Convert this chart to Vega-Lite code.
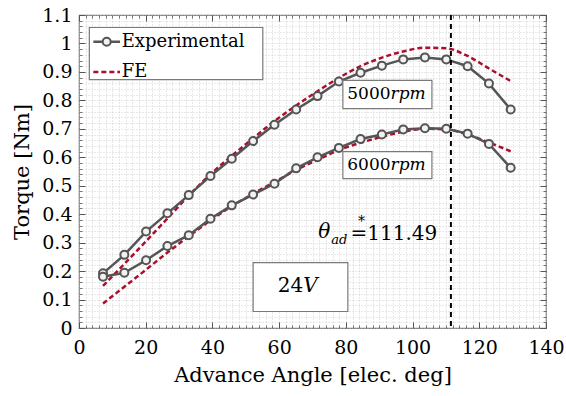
{
  "$schema": "https://vega.github.io/schema/vega-lite/v6.json",
  "width": 467,
  "height": 313,
  "autosize": {"type": "none"},
  "padding": {"left": 79, "top": 15, "right": 20, "bottom": 68},
  "background": "white",
  "config": {
    "view": {"stroke": "#7a7a7a", "strokeWidth": 1.2},
    "font": "DejaVu Serif",
    "axis": {
      "labelFont": "DejaVu Serif",
      "labelFontSize": 19,
      "labelColor": "black",
      "labelFlush": false,
      "labelOverlap": false,
      "titleFont": "DejaVu Serif",
      "titleFontSize": 21,
      "titleFontWeight": "normal",
      "titleColor": "black",
      "domain": false,
      "tickColor": "#555555",
      "grid": false
    }
  },
  "resolve": {"axis": {"x": "independent", "y": "independent"}},
  "datasets": {
    "curves": [
      {"angle": 7.2, "torque": 0.148, "speed": "5000", "source": "FE"},
      {"angle": 13.6, "torque": 0.225, "speed": "5000", "source": "FE"},
      {"angle": 20.1, "torque": 0.305, "speed": "5000", "source": "FE"},
      {"angle": 26.5, "torque": 0.385, "speed": "5000", "source": "FE"},
      {"angle": 32.9, "torque": 0.465, "speed": "5000", "source": "FE"},
      {"angle": 39.4, "torque": 0.54, "speed": "5000", "source": "FE"},
      {"angle": 45.8, "torque": 0.605, "speed": "5000", "source": "FE"},
      {"angle": 52.2, "torque": 0.667, "speed": "5000", "source": "FE"},
      {"angle": 58.6, "torque": 0.727, "speed": "5000", "source": "FE"},
      {"angle": 65.1, "torque": 0.782, "speed": "5000", "source": "FE"},
      {"angle": 71.5, "torque": 0.832, "speed": "5000", "source": "FE"},
      {"angle": 77.9, "torque": 0.879, "speed": "5000", "source": "FE"},
      {"angle": 84.4, "torque": 0.92, "speed": "5000", "source": "FE"},
      {"angle": 90.8, "torque": 0.95, "speed": "5000", "source": "FE"},
      {"angle": 97.2, "torque": 0.972, "speed": "5000", "source": "FE"},
      {"angle": 103.7, "torque": 0.985, "speed": "5000", "source": "FE"},
      {"angle": 110.1, "torque": 0.983, "speed": "5000", "source": "FE"},
      {"angle": 116.5, "torque": 0.956, "speed": "5000", "source": "FE"},
      {"angle": 122.9, "torque": 0.912, "speed": "5000", "source": "FE"},
      {"angle": 129.4, "torque": 0.868, "speed": "5000", "source": "FE"},
      {"angle": 7.2, "torque": 0.086, "speed": "6000", "source": "FE"},
      {"angle": 13.6, "torque": 0.145, "speed": "6000", "source": "FE"},
      {"angle": 20.1, "torque": 0.205, "speed": "6000", "source": "FE"},
      {"angle": 26.5, "torque": 0.265, "speed": "6000", "source": "FE"},
      {"angle": 32.9, "torque": 0.322, "speed": "6000", "source": "FE"},
      {"angle": 39.4, "torque": 0.378, "speed": "6000", "source": "FE"},
      {"angle": 45.8, "torque": 0.428, "speed": "6000", "source": "FE"},
      {"angle": 52.2, "torque": 0.472, "speed": "6000", "source": "FE"},
      {"angle": 58.6, "torque": 0.513, "speed": "6000", "source": "FE"},
      {"angle": 65.1, "torque": 0.555, "speed": "6000", "source": "FE"},
      {"angle": 71.5, "torque": 0.591, "speed": "6000", "source": "FE"},
      {"angle": 77.9, "torque": 0.625, "speed": "6000", "source": "FE"},
      {"angle": 84.4, "torque": 0.651, "speed": "6000", "source": "FE"},
      {"angle": 90.8, "torque": 0.672, "speed": "6000", "source": "FE"},
      {"angle": 97.2, "torque": 0.69, "speed": "6000", "source": "FE"},
      {"angle": 103.7, "torque": 0.70, "speed": "6000", "source": "FE"},
      {"angle": 110.1, "torque": 0.698, "speed": "6000", "source": "FE"},
      {"angle": 116.5, "torque": 0.68, "speed": "6000", "source": "FE"},
      {"angle": 122.9, "torque": 0.652, "speed": "6000", "source": "FE"},
      {"angle": 129.4, "torque": 0.621, "speed": "6000", "source": "FE"},
      {"angle": 7.2, "torque": 0.192, "speed": "5000", "source": "Experimental"},
      {"angle": 13.6, "torque": 0.257, "speed": "5000", "source": "Experimental"},
      {"angle": 20.1, "torque": 0.339, "speed": "5000", "source": "Experimental"},
      {"angle": 26.5, "torque": 0.403, "speed": "5000", "source": "Experimental"},
      {"angle": 32.9, "torque": 0.467, "speed": "5000", "source": "Experimental"},
      {"angle": 39.4, "torque": 0.534, "speed": "5000", "source": "Experimental"},
      {"angle": 45.8, "torque": 0.595, "speed": "5000", "source": "Experimental"},
      {"angle": 52.2, "torque": 0.657, "speed": "5000", "source": "Experimental"},
      {"angle": 58.6, "torque": 0.714, "speed": "5000", "source": "Experimental"},
      {"angle": 65.1, "torque": 0.768, "speed": "5000", "source": "Experimental"},
      {"angle": 71.5, "torque": 0.815, "speed": "5000", "source": "Experimental"},
      {"angle": 77.9, "torque": 0.866, "speed": "5000", "source": "Experimental"},
      {"angle": 84.4, "torque": 0.897, "speed": "5000", "source": "Experimental"},
      {"angle": 90.8, "torque": 0.922, "speed": "5000", "source": "Experimental"},
      {"angle": 97.2, "torque": 0.944, "speed": "5000", "source": "Experimental"},
      {"angle": 103.7, "torque": 0.951, "speed": "5000", "source": "Experimental"},
      {"angle": 110.1, "torque": 0.944, "speed": "5000", "source": "Experimental"},
      {"angle": 116.5, "torque": 0.92, "speed": "5000", "source": "Experimental"},
      {"angle": 122.9, "torque": 0.859, "speed": "5000", "source": "Experimental"},
      {"angle": 129.4, "torque": 0.768, "speed": "5000", "source": "Experimental"},
      {"angle": 7.2, "torque": 0.18, "speed": "6000", "source": "Experimental"},
      {"angle": 13.6, "torque": 0.194, "speed": "6000", "source": "Experimental"},
      {"angle": 20.1, "torque": 0.238, "speed": "6000", "source": "Experimental"},
      {"angle": 26.5, "torque": 0.288, "speed": "6000", "source": "Experimental"},
      {"angle": 32.9, "torque": 0.326, "speed": "6000", "source": "Experimental"},
      {"angle": 39.4, "torque": 0.384, "speed": "6000", "source": "Experimental"},
      {"angle": 45.8, "torque": 0.431, "speed": "6000", "source": "Experimental"},
      {"angle": 52.2, "torque": 0.469, "speed": "6000", "source": "Experimental"},
      {"angle": 58.6, "torque": 0.507, "speed": "6000", "source": "Experimental"},
      {"angle": 65.1, "torque": 0.561, "speed": "6000", "source": "Experimental"},
      {"angle": 71.5, "torque": 0.6, "speed": "6000", "source": "Experimental"},
      {"angle": 77.9, "torque": 0.633, "speed": "6000", "source": "Experimental"},
      {"angle": 84.4, "torque": 0.664, "speed": "6000", "source": "Experimental"},
      {"angle": 90.8, "torque": 0.68, "speed": "6000", "source": "Experimental"},
      {"angle": 97.2, "torque": 0.698, "speed": "6000", "source": "Experimental"},
      {"angle": 103.7, "torque": 0.702, "speed": "6000", "source": "Experimental"},
      {"angle": 110.1, "torque": 0.7, "speed": "6000", "source": "Experimental"},
      {"angle": 116.5, "torque": 0.683, "speed": "6000", "source": "Experimental"},
      {"angle": 122.9, "torque": 0.647, "speed": "6000", "source": "Experimental"},
      {"angle": 129.4, "torque": 0.563, "speed": "6000", "source": "Experimental"}
    ]
  },
  "layer": [
    {
      "data": {"name": "curves"},
      "transform": [{"filter": "datum.source === 'FE'"}],
      "mark": {"type": "line", "color": "#a8102e", "strokeWidth": 2.5, "strokeDash": [5, 3], "interpolate": "monotone"},
      "encoding": {
        "x": {"field": "angle", "type": "quantitative", "scale": {"domain": [0, 140], "nice": false},
          "axis": {"orient": "bottom", "values": [0,2,4,6,8,10,12,14,16,18,20,22,24,26,28,30,32,34,36,38,40,42,44,46,48,50,52,54,56,58,60,62,64,66,68,70,72,74,76,78,80,82,84,86,88,90,92,94,96,98,100,102,104,106,108,110,112,114,116,118,120,122,124,126,128,130,132,134,136,138,140],
            "labels": false, "title": null, "grid": true, "gridColor": "#c4c4c4", "gridDash": [1, 2], "gridWidth": 0.8, "tickSize": -3, "tickWidth": 0.8}},
        "y": {"field": "torque", "type": "quantitative", "scale": {"domain": [0, 1.1], "nice": false},
          "axis": {"orient": "left", "values": [0,0.02,0.04,0.06,0.08,0.1,0.12,0.14,0.16,0.18,0.2,0.22,0.24,0.26,0.28,0.3,0.32,0.34,0.36,0.38,0.4,0.42,0.44,0.46,0.48,0.5,0.52,0.54,0.56,0.58,0.6,0.62,0.64,0.66,0.68,0.7,0.72,0.74,0.76,0.78,0.8,0.82,0.84,0.86,0.88,0.9,0.92,0.94,0.96,0.98,1,1.02,1.04,1.06,1.08,1.1],
            "labels": false, "title": null, "grid": true, "gridColor": "#c4c4c4", "gridDash": [1, 2], "gridWidth": 0.8, "tickSize": -3, "tickWidth": 0.8}},
        "detail": {"field": "speed"}
      }
    },
    {
      "data": {"name": "curves"},
      "transform": [{"filter": "datum.source === 'Experimental'"}],
      "mark": {"type": "line", "color": "#555555", "strokeWidth": 2.5},
      "encoding": {
        "x": {"field": "angle", "type": "quantitative",
          "axis": {"orient": "bottom", "values": [0,20,40,60,80,100,120,140], "format": "~r", "tickSize": -6, "tickWidth": 1, "labelPadding": 16, "labelFlush": false, "title": "Advance Angle [elec. deg]", "titlePadding": 7}},
        "y": {"field": "torque", "type": "quantitative",
          "axis": {"orient": "left", "values": [0,0.1,0.2,0.3,0.4,0.5,0.6,0.7,0.8,0.9,1,1.1], "format": "~r", "tickSize": -6, "tickWidth": 1, "labelPadding": 13, "labelFlush": false, "title": "Torque [Nm]", "titlePadding": 9}},
        "detail": {"field": "speed"}
      }
    },
    {
      "data": {"name": "curves"},
      "transform": [{"filter": "datum.source === 'Experimental'"}],
      "mark": {"type": "point", "shape": "circle", "size": 64, "stroke": "#555555", "strokeWidth": 2, "fill": "#f2f2f2", "filled": true, "opacity": 1},
      "encoding": {
        "x": {"field": "angle", "type": "quantitative",
          "axis": {"orient": "top", "values": [0,2,4,6,8,10,12,14,16,18,20,22,24,26,28,30,32,34,36,38,40,42,44,46,48,50,52,54,56,58,60,62,64,66,68,70,72,74,76,78,80,82,84,86,88,90,92,94,96,98,100,102,104,106,108,110,112,114,116,118,120,122,124,126,128,130,132,134,136,138,140],
            "labels": false, "title": null, "tickSize": -3, "tickWidth": 0.8}},
        "y": {"field": "torque", "type": "quantitative",
          "axis": {"orient": "right", "values": [0,0.02,0.04,0.06,0.08,0.1,0.12,0.14,0.16,0.18,0.2,0.22,0.24,0.26,0.28,0.3,0.32,0.34,0.36,0.38,0.4,0.42,0.44,0.46,0.48,0.5,0.52,0.54,0.56,0.58,0.6,0.62,0.64,0.66,0.68,0.7,0.72,0.74,0.76,0.78,0.8,0.82,0.84,0.86,0.88,0.9,0.92,0.94,0.96,0.98,1,1.02,1.04,1.06,1.08,1.1],
            "labels": false, "title": null, "tickSize": -3, "tickWidth": 0.8}}
      }
    },
    {
      "data": {"values": [{"angle": 111.49}]},
      "mark": {"type": "rule", "color": "black", "strokeWidth": 2, "strokeDash": [5, 4]},
      "encoding": {
        "x": {"field": "angle", "type": "quantitative",
          "axis": {"orient": "top", "values": [0,20,40,60,80,100,120,140], "labels": false, "title": null, "tickSize": -6, "tickWidth": 1}}
      }
    },
    {
      "data": {"values": [
        {"x1": 3.1, "x2": 55.1, "y1": 0.873, "y2": 1.056},
        {"x1": 79.1, "x2": 105.8, "y1": 0.771, "y2": 0.870},
        {"x1": 79.1, "x2": 105.8, "y1": 0.525, "y2": 0.620},
        {"x1": 52.2, "x2": 80.6, "y1": 0.058, "y2": 0.230}
      ]},
      "mark": {"type": "rect", "fill": "white", "stroke": "#7a7a7a", "strokeWidth": 1.2},
      "encoding": {
        "x": {"field": "x1", "type": "quantitative", "axis": null},
        "x2": {"field": "x2"},
        "y": {"field": "y1", "type": "quantitative",
          "axis": {"orient": "right", "values": [0,0.1,0.2,0.3,0.4,0.5,0.6,0.7,0.8,0.9,1,1.1], "labels": false, "title": null, "tickSize": -6, "tickWidth": 1}},
        "y2": {"field": "y2"}
      }
    },
    {
      "data": {"values": [{"x1": 4.3, "x2": 12.3, "y": 1.006}]},
      "mark": {"type": "rule", "color": "#555555", "strokeWidth": 2.5},
      "encoding": {
        "x": {"field": "x1", "type": "quantitative", "axis": null},
        "x2": {"field": "x2"},
        "y": {"field": "y", "type": "quantitative", "axis": null}
      }
    },
    {
      "data": {"values": [{"x": 8.3, "y": 1.006}]},
      "mark": {"type": "point", "shape": "circle", "size": 64, "stroke": "#555555", "strokeWidth": 2, "fill": "#f2f2f2", "filled": true, "opacity": 1},
      "encoding": {
        "x": {"field": "x", "type": "quantitative", "axis": null},
        "y": {"field": "y", "type": "quantitative", "axis": null}
      }
    },
    {
      "data": {"values": [{"x1": 4.3, "x2": 12.3, "y": 0.9}]},
      "mark": {"type": "rule", "color": "#a8102e", "strokeWidth": 2.5, "strokeDash": [5, 3]},
      "encoding": {
        "x": {"field": "x1", "type": "quantitative", "axis": null},
        "x2": {"field": "x2"},
        "y": {"field": "y", "type": "quantitative", "axis": null}
      }
    },
    {
      "data": {"values": [{"x": 12.8, "y": 1.006, "label": "Experimental"}, {"x": 12.8, "y": 0.9, "label": "FE"}]},
      "mark": {"type": "text", "align": "left", "baseline": "middle", "fontSize": 18, "font": "DejaVu Serif", "color": "black"},
      "encoding": {
        "x": {"field": "x", "type": "quantitative", "axis": null},
        "y": {"field": "y", "type": "quantitative", "axis": null},
        "text": {"field": "label"}
      }
    },
    {
      "data": {"values": [{"x": 93.4, "y": 0.821, "label": "5000"}, {"x": 93.4, "y": 0.573, "label": "6000"}]},
      "mark": {"type": "text", "align": "right", "baseline": "middle", "fontSize": 17, "font": "DejaVu Serif", "color": "black"},
      "encoding": {
        "x": {"field": "x", "type": "quantitative", "axis": null},
        "y": {"field": "y", "type": "quantitative", "axis": null},
        "text": {"field": "label"}
      }
    },
    {
      "data": {"values": [{"x": 93.4, "y": 0.821, "label": "rpm"}, {"x": 93.4, "y": 0.573, "label": "rpm"}]},
      "mark": {"type": "text", "align": "left", "baseline": "middle", "fontSize": 17, "font": "DejaVu Serif", "fontStyle": "italic", "color": "black"},
      "encoding": {
        "x": {"field": "x", "type": "quantitative", "axis": null},
        "y": {"field": "y", "type": "quantitative", "axis": null},
        "text": {"field": "label"}
      }
    },
    {
      "data": {"values": [{"x": 67.2, "y": 0.146, "label": "24"}]},
      "mark": {"type": "text", "align": "right", "baseline": "middle", "fontSize": 20, "font": "DejaVu Serif", "color": "black"},
      "encoding": {
        "x": {"field": "x", "type": "quantitative", "axis": null},
        "y": {"field": "y", "type": "quantitative", "axis": null},
        "text": {"field": "label"}
      }
    },
    {
      "data": {"values": [{"x": 67.2, "y": 0.146, "label": "V"}]},
      "mark": {"type": "text", "align": "left", "baseline": "middle", "fontSize": 20, "font": "DejaVu Serif", "fontStyle": "italic", "color": "black"},
      "encoding": {
        "x": {"field": "x", "type": "quantitative", "axis": null},
        "y": {"field": "y", "type": "quantitative", "axis": null},
        "text": {"field": "label"}
      }
    },
    {
      "data": {"values": [{"x": 71.7, "y": 0.336, "label": "θ"}]},
      "mark": {"type": "text", "align": "left", "baseline": "middle", "fontSize": 20, "font": "DejaVu Serif", "fontStyle": "italic", "color": "black"},
      "encoding": {
        "x": {"field": "x", "type": "quantitative", "axis": null},
        "y": {"field": "y", "type": "quantitative", "axis": null},
        "text": {"field": "label"}
      }
    },
    {
      "data": {"values": [{"x": 75.6, "y": 0.31, "label": "ad"}]},
      "mark": {"type": "text", "align": "left", "baseline": "middle", "fontSize": 13, "font": "DejaVu Serif", "fontStyle": "italic", "color": "black"},
      "encoding": {
        "x": {"field": "x", "type": "quantitative", "axis": null},
        "y": {"field": "y", "type": "quantitative", "axis": null},
        "text": {"field": "label"}
      }
    },
    {
      "data": {"values": [{"x": 84.7, "y": 0.372, "label": "*"}]},
      "mark": {"type": "text", "align": "center", "baseline": "middle", "fontSize": 14, "font": "DejaVu Serif", "color": "black"},
      "encoding": {
        "x": {"field": "x", "type": "quantitative", "axis": null},
        "y": {"field": "y", "type": "quantitative", "axis": null},
        "text": {"field": "label"}
      }
    },
    {
      "data": {"values": [{"x": 81.4, "y": 0.332, "label": "=111.49"}]},
      "mark": {"type": "text", "align": "left", "baseline": "middle", "fontSize": 20, "font": "DejaVu Serif", "color": "black"},
      "encoding": {
        "x": {"field": "x", "type": "quantitative", "axis": null},
        "y": {"field": "y", "type": "quantitative", "axis": null},
        "text": {"field": "label"}
      }
    }
  ]
}
